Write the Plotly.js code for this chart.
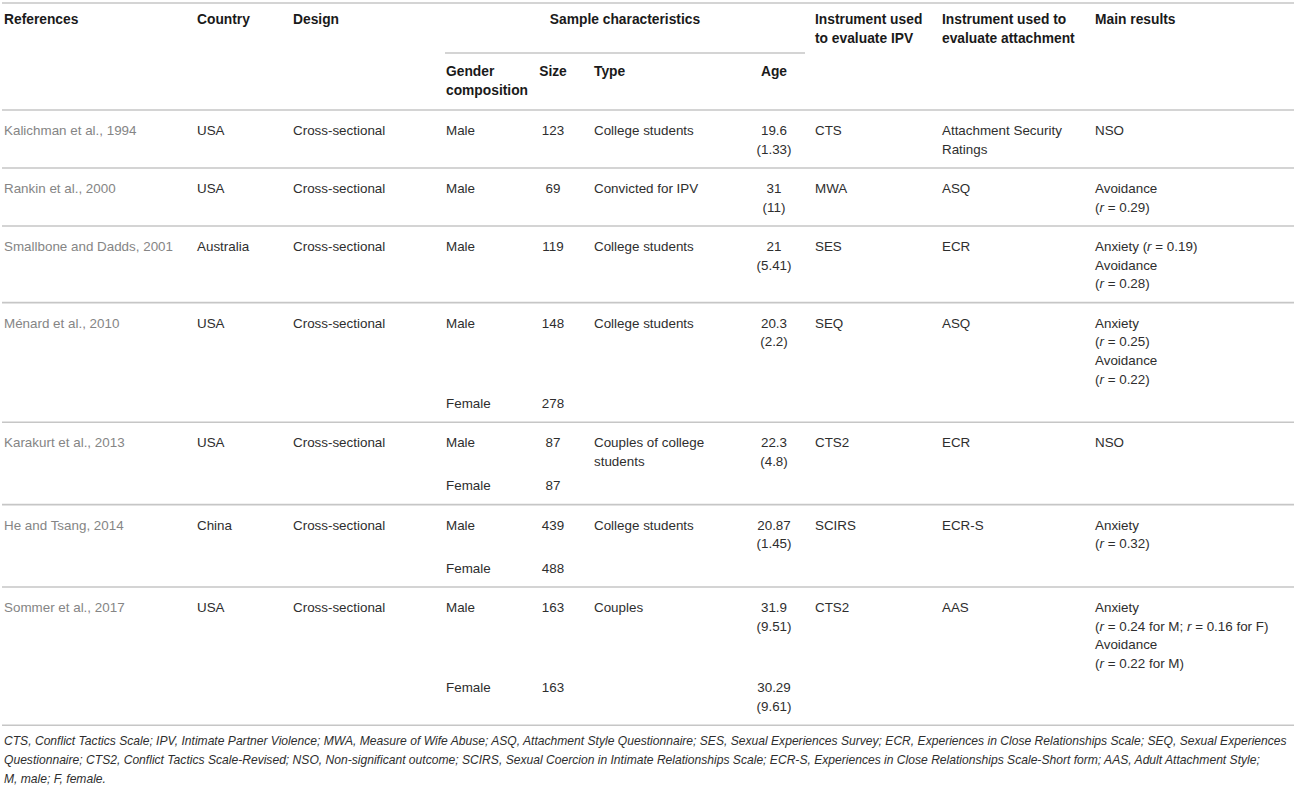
<!DOCTYPE html>
<html>
<head>
<meta charset="utf-8">
<script src="https://cdn.plot.ly/plotly-3.0.1.min.js"></script>
<style>
  html, body { margin: 0; padding: 0; background: #ffffff; }
  #chart { width: 1296px; height: 785px; }
</style>
</head>
<body>
<div id="chart"></div>
<script>
// ---------------- DATA ----------------
const headerTop = ["References", "Country", "Design", "Sample characteristics",
  "Instrument used\nto evaluate IPV", "Instrument used to\nevaluate attachment", "Main results"];
const headerSub = ["Gender\ncomposition", "Size", "Type", "Age"];

const references = ["Kalichman et al., 1994", "Rankin et al., 2000", "Smallbone and Dadds, 2001",
  "Ménard et al., 2010", "Karakurt et al., 2013", "He and Tsang, 2014", "Sommer et al., 2017"];
const countries = ["USA", "USA", "Australia", "USA", "USA", "China", "USA"];
const designs = ["Cross-sectional", "Cross-sectional", "Cross-sectional", "Cross-sectional",
  "Cross-sectional", "Cross-sectional", "Cross-sectional"];
const genderComposition = [["Male"], ["Male"], ["Male"], ["Male", "Female"], ["Male", "Female"],
  ["Male", "Female"], ["Male", "Female"]];
const sampleSizes = [[123], [69], [119], [148, 278], [87, 87], [439, 488], [163, 163]];
const sampleTypes = ["College students", "Convicted for IPV", "College students", "College students",
  "Couples of college\nstudents", "College students", "Couples"];
const ageMeans = [[19.6], [31], [21], [20.3], [22.3], [20.87], [31.9, 30.29]];
const ageSDs = [[1.33], [11], [5.41], [2.2], [4.8], [1.45], [9.51, 9.61]];
const ipvInstruments = ["CTS", "MWA", "SES", "SEQ", "CTS2", "SCIRS", "CTS2"];
const attachmentInstruments = ["Attachment Security\nRatings", "ASQ", "ECR", "ASQ", "ECR", "ECR-S", "AAS"];
const mainResults = [
  ["NSO"],
  ["Avoidance", "(<i>r</i> = 0.29)"],
  ["Anxiety (<i>r</i> = 0.19)", "Avoidance", "(<i>r</i> = 0.28)"],
  ["Anxiety", "(<i>r</i> = 0.25)", "Avoidance", "(<i>r</i> = 0.22)"],
  ["NSO"],
  ["Anxiety", "(<i>r</i> = 0.32)"],
  ["Anxiety", "(<i>r</i> = 0.24 for M; <i>r</i> = 0.16 for F)", "Avoidance", "(<i>r</i> = 0.22 for M)"]
];
const footnoteLines = [
  "CTS, Conflict Tactics Scale; IPV, Intimate Partner Violence; MWA, Measure of Wife Abuse; ASQ, Attachment Style Questionnaire; SES, Sexual Experiences Survey; ECR, Experiences in Close Relationships Scale; SEQ, Sexual Experiences",
  "Questionnaire; CTS2, Conflict Tactics Scale-Revised; NSO, Non-significant outcome; SCIRS, Sexual Coercion in Intimate Relationships Scale; ECR-S, Experiences in Close Relationships Scale-Short form; AAS, Adult Attachment Style;",
  "M, male; F, female."
];

// ---------------- LAYOUT GEOMETRY ----------------
const W = 1296, H = 785;
const col = { ref: 4, country: 197, design: 293, gender: 446, size: 553, type: 594,
  age: 774, ipv: 815, att: 942, main: 1095 };
const sampleSpan = [445, 805];
const STEP = 18.6, PAD_TOP = 20, PAD_BOTTOM = 19.4, SUB_GAP = 24.4, TEXT_DY = 1.8;
const FONT = "Liberation Sans, Arial, sans-serif";

const groups = {
  header: { x: [], y: [], t: [], pos: "middle right", font: { family: FONT, size: 13.8, color: "#1a1a1a", weight: "bold" } },
  headerC: { x: [], y: [], t: [], pos: "middle center", font: { family: FONT, size: 13.8, color: "#1a1a1a", weight: "bold" } },
  body: { x: [], y: [], t: [], pos: "middle right", font: { family: FONT, size: 13.4, color: "#2e2e2e" } },
  bodyC: { x: [], y: [], t: [], pos: "middle center", font: { family: FONT, size: 13.4, color: "#2e2e2e" } },
  ref: { x: [], y: [], t: [], pos: "middle right", font: { family: FONT, size: 13.4, color: "#858585" } },
  foot: { x: [], y: [], t: [], pos: "middle right", font: { family: FONT, size: 12.1, color: "#2e2e2e", style: "italic" } }
};
function put(g, x, y, text, step) {
  const lines = String(text).split("\n");
  lines.forEach((ln, i) => { groups[g].x.push(x); groups[g].y.push(y + TEXT_DY + i * (step || STEP)); groups[g].t.push(ln); });
  return lines.length;
}

const hLines = [];
// header
const topLine = 3;
hLines.push([2, W - 2, topLine]);
const h1 = topLine + 16;
put("header", col.ref, h1, headerTop[0], 19);
put("header", col.country, h1, headerTop[1]);
put("header", col.design, h1, headerTop[2]);
put("headerC", (sampleSpan[0] + sampleSpan[1]) / 2, h1, headerTop[3]);
put("header", col.ipv, h1, headerTop[4], 19);
put("header", col.att, h1, headerTop[5], 19);
put("header", col.main, h1, headerTop[6]);
const subLine = 53;
hLines.push([sampleSpan[0], sampleSpan[1], subLine]);
const h2 = subLine + 18;
put("header", col.gender, h2, headerSub[0], 19);
put("headerC", col.size, h2, headerSub[1]);
put("header", col.type, h2, headerSub[2]);
put("headerC", col.age, h2, headerSub[3]);
let y = 110;
hLines.push([2, W - 2, y]);

// body rows
for (let i = 0; i < references.length; i++) {
  const first = y + PAD_TOP;
  put("ref", col.ref, first, references[i]);
  put("body", col.country, first, countries[i]);
  put("body", col.design, first, designs[i]);
  put("body", col.ipv, first, ipvInstruments[i]);
  let n0 = 1;
  n0 = Math.max(n0, put("body", col.type, first, sampleTypes[i]));
  n0 = Math.max(n0, put("body", col.att, first, attachmentInstruments[i]));
  n0 = Math.max(n0, put("body", col.main, first, mainResults[i].join("\n")));
  let subY = first, lastLine = first;
  for (let s = 0; s < genderComposition[i].length; s++) {
    let n = 1;
    put("body", col.gender, subY, genderComposition[i][s]);
    put("bodyC", col.size, subY, sampleSizes[i][s]);
    if (ageMeans[i][s] !== undefined) {
      n = Math.max(n, put("bodyC", col.age, subY, ageMeans[i][s] + "\n(" + ageSDs[i][s] + ")"));
    }
    if (s === 0) n = Math.max(n, n0);
    lastLine = subY + (n - 1) * STEP;
    subY = lastLine + SUB_GAP;
  }
  y = lastLine + PAD_BOTTOM;
  hLines.push([2, W - 2, y]);
}

// footnote
footnoteLines.forEach((ln, i) => put("foot", col.ref, y + 14.5 + i * 19.2, ln));

// ---------------- PLOT ----------------
const traces = Object.keys(groups).map(k => ({
  type: "scatter", mode: "text", x: groups[k].x, y: groups[k].y, text: groups[k].t,
  textposition: groups[k].pos, textfont: groups[k].font, hoverinfo: "skip",
  cliponaxis: false, showlegend: false
}));

const shapes = hLines.map(l => ({
  type: "line", xref: "x", yref: "y", x0: l[0], x1: l[1], y0: l[2], y1: l[2],
  line: { color: "#c6c6c6", width: 1.6 }, layer: "below"
}));

const layout = {
  width: W, height: H,
  margin: { l: 0, r: 0, t: 0, b: 0 },
  paper_bgcolor: "#ffffff", plot_bgcolor: "#ffffff",
  xaxis: { range: [0, W], visible: false, fixedrange: true },
  yaxis: { range: [H, 0], visible: false, fixedrange: true },
  shapes: shapes,
  showlegend: false
};

Plotly.newPlot("chart", traces, layout, { staticPlot: true, displayModeBar: false });
</script>
</body>
</html>
